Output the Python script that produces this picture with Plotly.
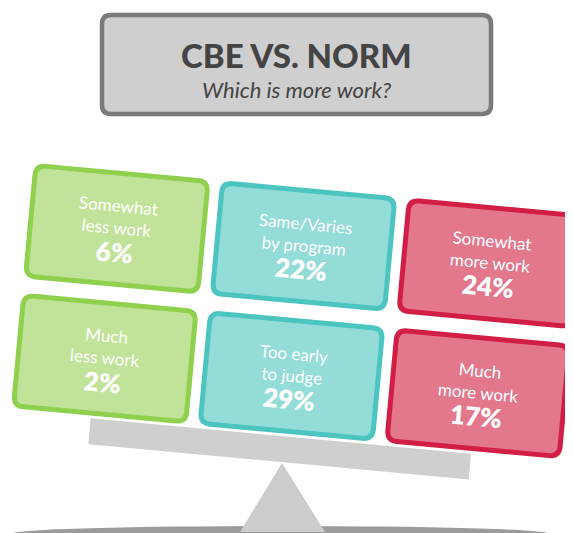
import math
import plotly.graph_objects as go

# ---- data ----
labels = ["Somewhat<br>less work", "Same/Varies<br>by program", "Somewhat<br>more work",
          "Much<br>less work", "Too early<br>to judge", "Much<br>more work"]
values = [6, 22, 24, 2, 29, 17]
groups = ["less", "same", "more", "less", "same", "more"]
title = "CBE VS. NORM"
subtitle = "Which is more work?"

fills = {"less": "#c1e399", "same": "#93dcd7", "more": "#e3788d"}
borders = {"less": "#8fd14f", "same": "#4cc4c0", "more": "#d21d45"}

W, H = 573, 533
OFF = 8  # page body margin
theta_deg = 5.3
theta = math.radians(theta_deg)
CX, CY = 297.5, 311.0
COL_STEP, ROW_STEP = 187.5, 130.5
BOX_W, BOX_H, R = 173, 111, 10
LW = 5

c, s = math.cos(theta), math.sin(theta)


def to_screen(u, v):
    return CX + u * c - v * s, CY + u * s + v * c


def rrect_path(u0, v0, u1, v1, r, tf):
    pts = [
        ("M", [(u0 + r, v0)]),
        ("L", [(u1 - r, v0)]),
        ("Q", [(u1, v0), (u1, v0 + r)]),
        ("L", [(u1, v1 - r)]),
        ("Q", [(u1, v1), (u1 - r, v1)]),
        ("L", [(u0 + r, v1)]),
        ("Q", [(u0, v1), (u0, v1 - r)]),
        ("L", [(u0, v0 + r)]),
        ("Q", [(u0, v0), (u0 + r, v0)]),
    ]
    out = []
    for cmd, ps in pts:
        coords = " ".join("%.2f,%.2f" % tf(*p) for p in ps)
        out.append(cmd + " " + coords)
    return " ".join(out) + " Z"


def poly_path(points):
    return "M " + " L ".join("%.2f,%.2f" % p for p in points) + " Z"


fig = go.Figure()
fig.add_trace(go.Scatter(x=[OFF, W], y=[OFF, H], mode="markers", marker=dict(opacity=0),
                         hoverinfo="skip", showlegend=False))

shapes = []
# ground
shapes.append(dict(type="circle", xref="x", yref="y", x0=13, x1=548, y0=526, y1=541,
                   fillcolor="#9b9b9b", line=dict(width=0), layer="above"))
# fulcrum
shapes.append(dict(type="path", xref="x", yref="y",
                   path=poly_path([(282, 463), (240, 532), (325, 532)]),
                   fillcolor="#cccccb", line=dict(width=0), layer="above"))
# beam
bu, bv, bw, bh = -5, 139, 382, 26
shapes.append(dict(type="path", xref="x", yref="y",
                   path=poly_path([to_screen(bu - bw / 2, bv - bh / 2), to_screen(bu + bw / 2, bv - bh / 2),
                                   to_screen(bu + bw / 2, bv + bh / 2), to_screen(bu - bw / 2, bv + bh / 2)]),
                   fillcolor="#cfcfcd", line=dict(width=0), layer="above"))

annotations = []
for i, (lab, val, g) in enumerate(zip(labels, values, groups)):
    col = i % 3 - 1
    row = i // 3
    u = col * COL_STEP
    v = (row - 0.5) * ROW_STEP
    shapes.append(dict(type="path", xref="x", yref="y",
                       path=rrect_path(u - BOX_W / 2, v - BOX_H / 2, u + BOX_W / 2, v + BOX_H / 2, R, to_screen),
                       fillcolor=fills[g], line=dict(color=borders[g], width=LW), layer="above"))
    lx, ly = to_screen(u, v - 12)
    annotations.append(dict(x=lx, y=ly, xref="x", yref="y", text=lab, showarrow=False,
                            textangle=theta_deg, xanchor="center", yanchor="middle",
                            font=dict(family="Lato", size=17, color="white")))
    px, py = to_screen(u, v + 23)
    annotations.append(dict(x=px, y=py, xref="x", yref="y", text="%d%%" % val, showarrow=False,
                            textangle=theta_deg, xanchor="center", yanchor="middle",
                            font=dict(family="Lato", size=26, color="white", weight=800)))

# title box
ident = lambda a, b: (a, b)
shapes.append(dict(type="path", xref="x", yref="y",
                   path=rrect_path(102, 15, 491, 114, 9, ident),
                   fillcolor="#cfcfcf", line=dict(color="#7a7a7a", width=4.5), layer="above"))
annotations.append(dict(x=296, y=55, xref="x", yref="y", text=title, showarrow=False,
                        xanchor="center", yanchor="middle", borderpad=0,
                        font=dict(family="Lato", size=33, color="#444444", weight=900)))
annotations.append(dict(x=296, y=89, xref="x", yref="y", text="<i>" + subtitle + "</i>", showarrow=False,
                        xanchor="center", yanchor="middle", borderpad=0,
                        font=dict(family="Lato", size=22, color="#444444")))

fig.update_layout(
    width=W - OFF, height=H - OFF, margin=dict(l=0, r=0, t=0, b=0),
    paper_bgcolor="white", plot_bgcolor="white",
    xaxis=dict(range=[OFF, W], visible=False, fixedrange=True),
    yaxis=dict(range=[H, OFF], visible=False, fixedrange=True),
    shapes=shapes, annotations=annotations, showlegend=False,
)
fig.write_html("out.html", config={"displayModeBar": False})
